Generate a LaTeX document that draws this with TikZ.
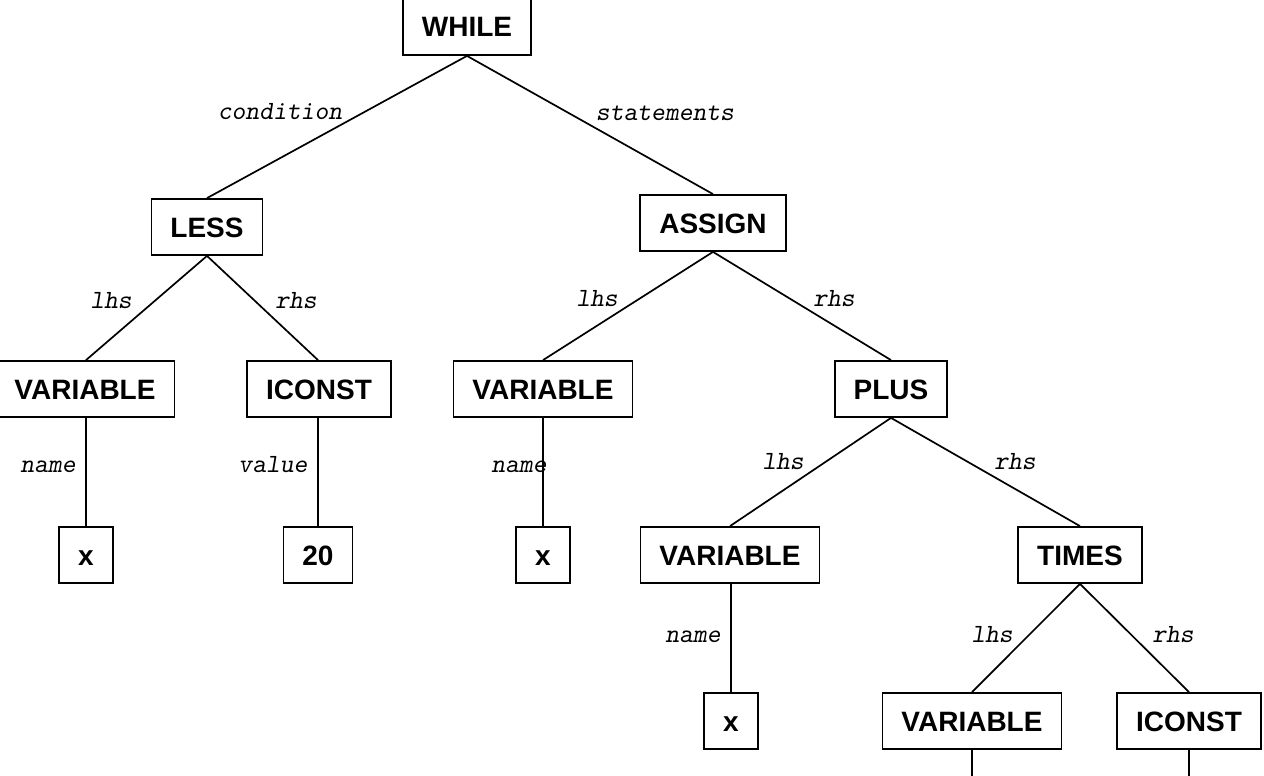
\documentclass[tikz,border=0pt]{standalone}
\usepackage{fontspec}
\setmainfont{Liberation Sans}
\begin{document}
\begin{tikzpicture}[x=1pt,y=-1pt,
  box/.style={draw, line width=1.8pt, font=\fontsize{28}{30}\selectfont\bfseries,
    minimum height=56pt, inner xsep=19pt, inner ysep=0pt, text height=20pt, text depth=0pt},
  lab/.style={font=\ttfamily\slshape\fontsize{26.3}{28}\selectfont, anchor=base, inner sep=0pt},
  edge/.style={line width=1.7pt}]
\clip (0,0) rectangle (1264,776);
\fill[white] (0,0) rectangle (1264,776);
% nodes
\node[box] (while) at (467,27) {WHILE};
\node[box] (less) at (207,227) {LESS};
\node[box] (assign) at (713,223) {ASSIGN};
\node[box] (var1) at (85,389) {VARIABLE};
\node[box] (iconst1) at (319,389) {ICONST};
\node[box] (x1) at (86,555) {x};
\node[box] (c20) at (318,555) {20};
\node[box] (var2) at (543,389) {VARIABLE};
\node[box] (plus) at (891,389) {PLUS};
\node[box] (x2) at (543,555) {x};
\node[box] (var3) at (730,555) {VARIABLE};
\node[box] (times) at (1080,555) {TIMES};
\node[box] (x3) at (731,721) {x};
\node[box] (var4) at (972,721) {VARIABLE};
\node[box] (iconst2) at (1189,721) {ICONST};
\coordinate (end1) at (972,800);
\coordinate (end2) at (1189,800);
% connectors
\draw[edge] (while.south) -- (less.north);
\draw[edge] (while.south) -- (assign.north);
\draw[edge] (less.south) -- (var1.north -| x1);
\draw[edge] (less.south) -- (iconst1.north -| c20);
\draw[edge] (var1.south -| x1) -- (x1.north);
\draw[edge] (iconst1.south -| c20) -- (c20.north);
\draw[edge] (assign.south) -- (var2.north);
\draw[edge] (assign.south) -- (plus.north);
\draw[edge] (var2.south) -- (x2.north);
\draw[edge] (plus.south) -- (var3.north);
\draw[edge] (plus.south) -- (times.north);
\draw[edge] (var3.south -| x3) -- (x3.north);
\draw[edge] (times.south) -- (var4.north);
\draw[edge] (times.south) -- (iconst2.north);
\draw[edge] (var4.south) -- (end1);
\draw[edge] (iconst2.south) -- (end2);
% labels
\node[lab] (l1) at (280,119) {condition};
\node[lab] (l2) at (665,120) {statements};
\node[lab] (l3) at (111,308) {lhs};
\node[lab] (l4) at (296,308) {rhs};
\node[lab] (l5) at (48,472) {name};
\node[lab] (l6) at (273,472) {value};
\node[lab] (l7) at (597,306) {lhs};
\node[lab] (l8) at (834,306) {rhs};
\node[lab] (l9) at (519,472) {name};
\node[lab] (l10) at (783,469) {lhs};
\node[lab] (l11) at (1015,469) {rhs};
\node[lab] (l12) at (693,642) {name};
\node[lab] (l13) at (992,642) {lhs};
\node[lab] (l14) at (1173,642) {rhs};
\end{tikzpicture}
\end{document}
